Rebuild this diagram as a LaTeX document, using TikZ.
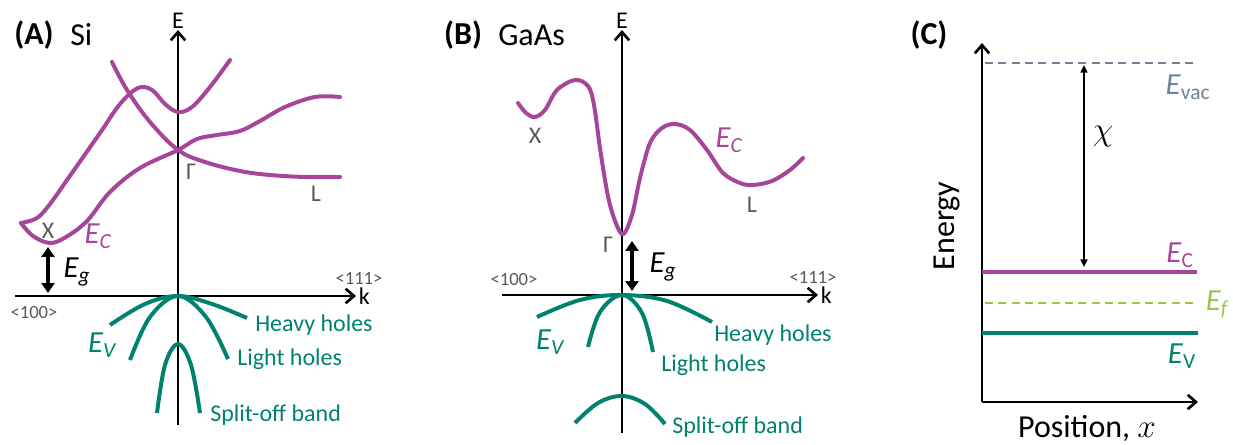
\documentclass[tikz,border=0pt]{standalone}
\usepackage{fontspec}
\setmainfont{Carlito}
\usetikzlibrary{arrows.meta,positioning}
\definecolor{condDraw}{HTML}{A5469B}
\definecolor{valDraw}{HTML}{00826E}
\definecolor{fermiDraw}{HTML}{96C846}
\definecolor{vacDraw}{HTML}{6E8299}
\definecolor{symText}{HTML}{595959}
\tikzset{
  font=\fontsize{18}{21}\selectfont,
  axarr/.style  ={-{Straight Barb[length=2.2mm,width=3.8mm]}, line width=0.7mm},
  cband/.style  ={draw=condDraw, line width=1.05mm, line cap=round},
  vband/.style  ={draw=valDraw, line width=1.05mm},
  gaparr/.style ={{Triangle[length=2.6mm,width=3.4mm]}-{Triangle[length=2.6mm,width=3.4mm]}, line width=0.8mm},
  chiarr/.style ={{Triangle[length=2mm,width=1.8mm]}-{Triangle[length=2mm,width=1.8mm]}, line width=0.45mm},
  lvl/.style    ={line width=1.05mm},
  dashlvl/.style={line width=0.55mm, dash pattern=on 6pt off 4pt},
  axlbl/.style  ={font=\fontsize{18}{20}\selectfont, inner sep=1pt},
  dirlbl/.style ={text=symText, font=\fontsize{14}{16}\selectfont, inner sep=0pt},
  sym/.style    ={text=symText, font=\fontsize{18}{20}\selectfont, inner sep=0pt},
  biglbl/.style ={font=\fontsize{23}{25}\selectfont, inner sep=0pt},
  bigit/.style  ={font=\fontsize{23}{25}\selectfont\itshape, inner sep=0pt},
  clbl/.style   ={bigit, text=condDraw},
  vsym/.style   ={bigit, text=valDraw},
  vlbl/.style   ={text=valDraw, inner sep=0pt, anchor=west},
  ptitle/.style ={font=\fontsize{24}{26}\selectfont, inner sep=0pt},
}

\begin{document}
\begin{tikzpicture}[x=0.75pt, y=-0.75pt]
  \useasboundingbox (0,0) rectangle (1233,445);

  % panel A: silicon, indirect gap
  \node[ptitle] (aTag) at (34,35) {\bfseries (A)};
  \node[ptitle, anchor=west] (aMat) at (70,35) {Si};
  \coordinate (aTop) at (178,30);
  \coordinate (aBot) at (178,425);
  \coordinate (aLeft) at (15,296);
  \coordinate (aRight) at (356,296);
  \draw[axarr] (aBot) -- (aTop);
  \draw[axarr] (aLeft) -- (aRight);
  \node[axlbl, above=0pt of aTop] (aE) {E};
  \node[axlbl, right=1pt of aRight] (aK) {k};
  \node[dirlbl] (a111) at (359,278) {<111>};
  \node[dirlbl] (a100) at (34,313) {<100>};

  % conduction bands
  \draw[cband] plot[smooth, tension=0.6] coordinates {(112,62) (127,90) (150,122) (178,150) (205,162) (240,171) (270,175) (305,177) (340,177)};
  \draw[cband] plot[smooth, tension=0.6] coordinates {(21,223) (37,218) (50,204) (67,180) (100,133) (120,104) (138,88) (152,90) (165,104) (178,112) (192,107) (210,87) (230,60)};
  \draw[cband] plot[smooth, tension=0.6] coordinates {(21,223) (33,236) (50,243) (66,237) (87,221) (110,192) (140,168) (178,150) (197,139) (217,135) (240,131) (260,121) (285,107) (315,97) (340,97)};
  \node[sym] (aX) at (48,231) {X};
  \node[sym] (aG) at (191,172) {Γ};
  \node[sym] (aL) at (316,194) {L};
  \node[clbl] (aEc) at (98,236) {E\textsubscript{C}};

  % band gap
  \coordinate (aGapT) at (48,247);
  \coordinate (aGapB) at (48,293);
  \draw[gaparr] (aGapT) -- (aGapB);
  \node[bigit] (aEg) at (77,272) {E\textsubscript{g}};

  % valence bands
  \draw[vband] plot[smooth, tension=0.6] coordinates {(110,325) (145,304) (178,296) (212,304) (247,318)};
  \draw[vband] plot[smooth, tension=0.6] coordinates {(130,360) (150,317) (178,296) (206,317) (228,359)};
  \draw[vband] plot[smooth, tension=0.6] coordinates {(157,413) (165,365) (178,344) (191,365) (200,413)};
  \node[vsym] (aEv) at (102,345) {E\textsubscript{V}};
  \node[vlbl] (aHh) at (255,325) {Heavy holes};
  \node[vlbl] (aLh) at (237,359) {Light holes};
  \node[vlbl] (aSo) at (210,415) {Split-off band};

  % panel B: gallium arsenide, direct gap
  \node[ptitle] (bTag) at (463,35) {\bfseries (B)};
  \node[ptitle, anchor=west] (bMat) at (498,35) {GaAs};
  \coordinate (bTop) at (622,30);
  \coordinate (bBot) at (622,433);
  \coordinate (bLeft) at (502,295);
  \coordinate (bRight) at (818,295);
  \draw[axarr] (bBot) -- (bTop);
  \draw[axarr] (bLeft) -- (bRight);
  \node[axlbl, above=0pt of bTop] (bE) {E};
  \node[axlbl, right=1pt of bRight] (bK) {k};
  \node[dirlbl] (b111) at (813,277) {<111>};
  \node[dirlbl] (b100) at (514,280) {<100>};

  \draw[cband] plot[smooth, tension=0.55] coordinates {(518,103) (526,113) (535,117) (545,110) (557,90) (575,80) (588,86) (594,105) (601,155) (610,205) (622,234) (632,215) (640,178) (650,143) (662,128) (675,124) (690,130) (707,150) (723,173) (740,183) (753,185) (772,181) (790,170) (803,158)};
  \node[sym] (bX) at (535,136) {X};
  \node[sym] (bG) at (608,245) {Γ};
  \node[sym] (bL) at (752,205) {L};
  \node[clbl] (bEc) at (729,140) {E\textsubscript{C}};

  \coordinate (bGapT) at (632,241);
  \coordinate (bGapB) at (632,291);
  \draw[gaparr] (bGapT) -- (bGapB);
  \node[bigit] (bEg) at (663,267) {E\textsubscript{g}};

  \draw[vband] plot[smooth, tension=0.6] coordinates {(537,317) (580,300) (622,295) (667,301) (712,322)};
  \draw[vband] plot[smooth, tension=0.6] coordinates {(588,347) (600,312) (622,295) (642,313) (653,352)};
  \draw[vband] plot[smooth, tension=0.6] coordinates {(575,423) (598,403) (622,396) (645,404) (665,424)};
  \node[vsym] (bEv) at (550,342) {E\textsubscript{V}};
  \node[vlbl] (bHh) at (714,335) {Heavy holes};
  \node[vlbl] (bLh) at (661,365) {Light holes};
  \node[vlbl] (bSo) at (672,427) {Split-off band};

  % panel C: flat band levels
  \node[ptitle] (cTag) at (929,35) {\bfseries (C)};
  \coordinate (cO) at (982,402);
  \coordinate (cTop) at (982,43);
  \coordinate (cRight) at (1198,402);
  \draw[axarr] (cO) -- (cTop);
  \draw[axarr] (cO) -- (cRight);
  \node[font=\fontsize{24}{26}\selectfont, rotate=90, inner sep=0pt] (cEn) at (947,226) {Energy};
  \node[font=\fontsize{24}{26}\selectfont, inner sep=0pt] (cPos) at (1087,428) {Position, $x$};

  \coordinate (vacL) at (985,63);
  \coordinate (vacR) at (1195,63);
  \draw[dashlvl, draw=vacDraw] (vacL) -- (vacR);
  \node[biglbl, text=vacDraw] (cEvac) at (1188,87) {\textit{E}\textsubscript{vac}};

  \coordinate (ecL) at (982,272);
  \coordinate (ecR) at (1197,272);
  \draw[lvl, draw=condDraw] (ecL) -- (ecR);
  \node[biglbl, text=condDraw] (cEc) at (1180,255) {\textit{E}\textsubscript{C}};

  \coordinate (efL) at (985,303);
  \coordinate (efR) at (1195,303);
  \draw[dashlvl, draw=fermiDraw] (efL) -- (efR);
  \node[bigit, text=fermiDraw] (cEf) at (1217,304) {E\textsubscript{f}};

  \coordinate (evL) at (982,333);
  \coordinate (evR) at (1198,333);
  \draw[lvl, draw=valDraw] (evL) -- (evR);
  \node[biglbl, text=valDraw] (cEv) at (1182,356) {\textit{E}\textsubscript{V}};

  % electron affinity
  \coordinate (chiT) at (1084,65);
  \coordinate (chiB) at (1084,267);
  \draw[chiarr] (chiT) -- (chiB);
  \node[font=\fontsize{26}{28}\selectfont, inner sep=0pt] (cChi) at (1103,137) {$\chi$};
\end{tikzpicture}
\end{document}
